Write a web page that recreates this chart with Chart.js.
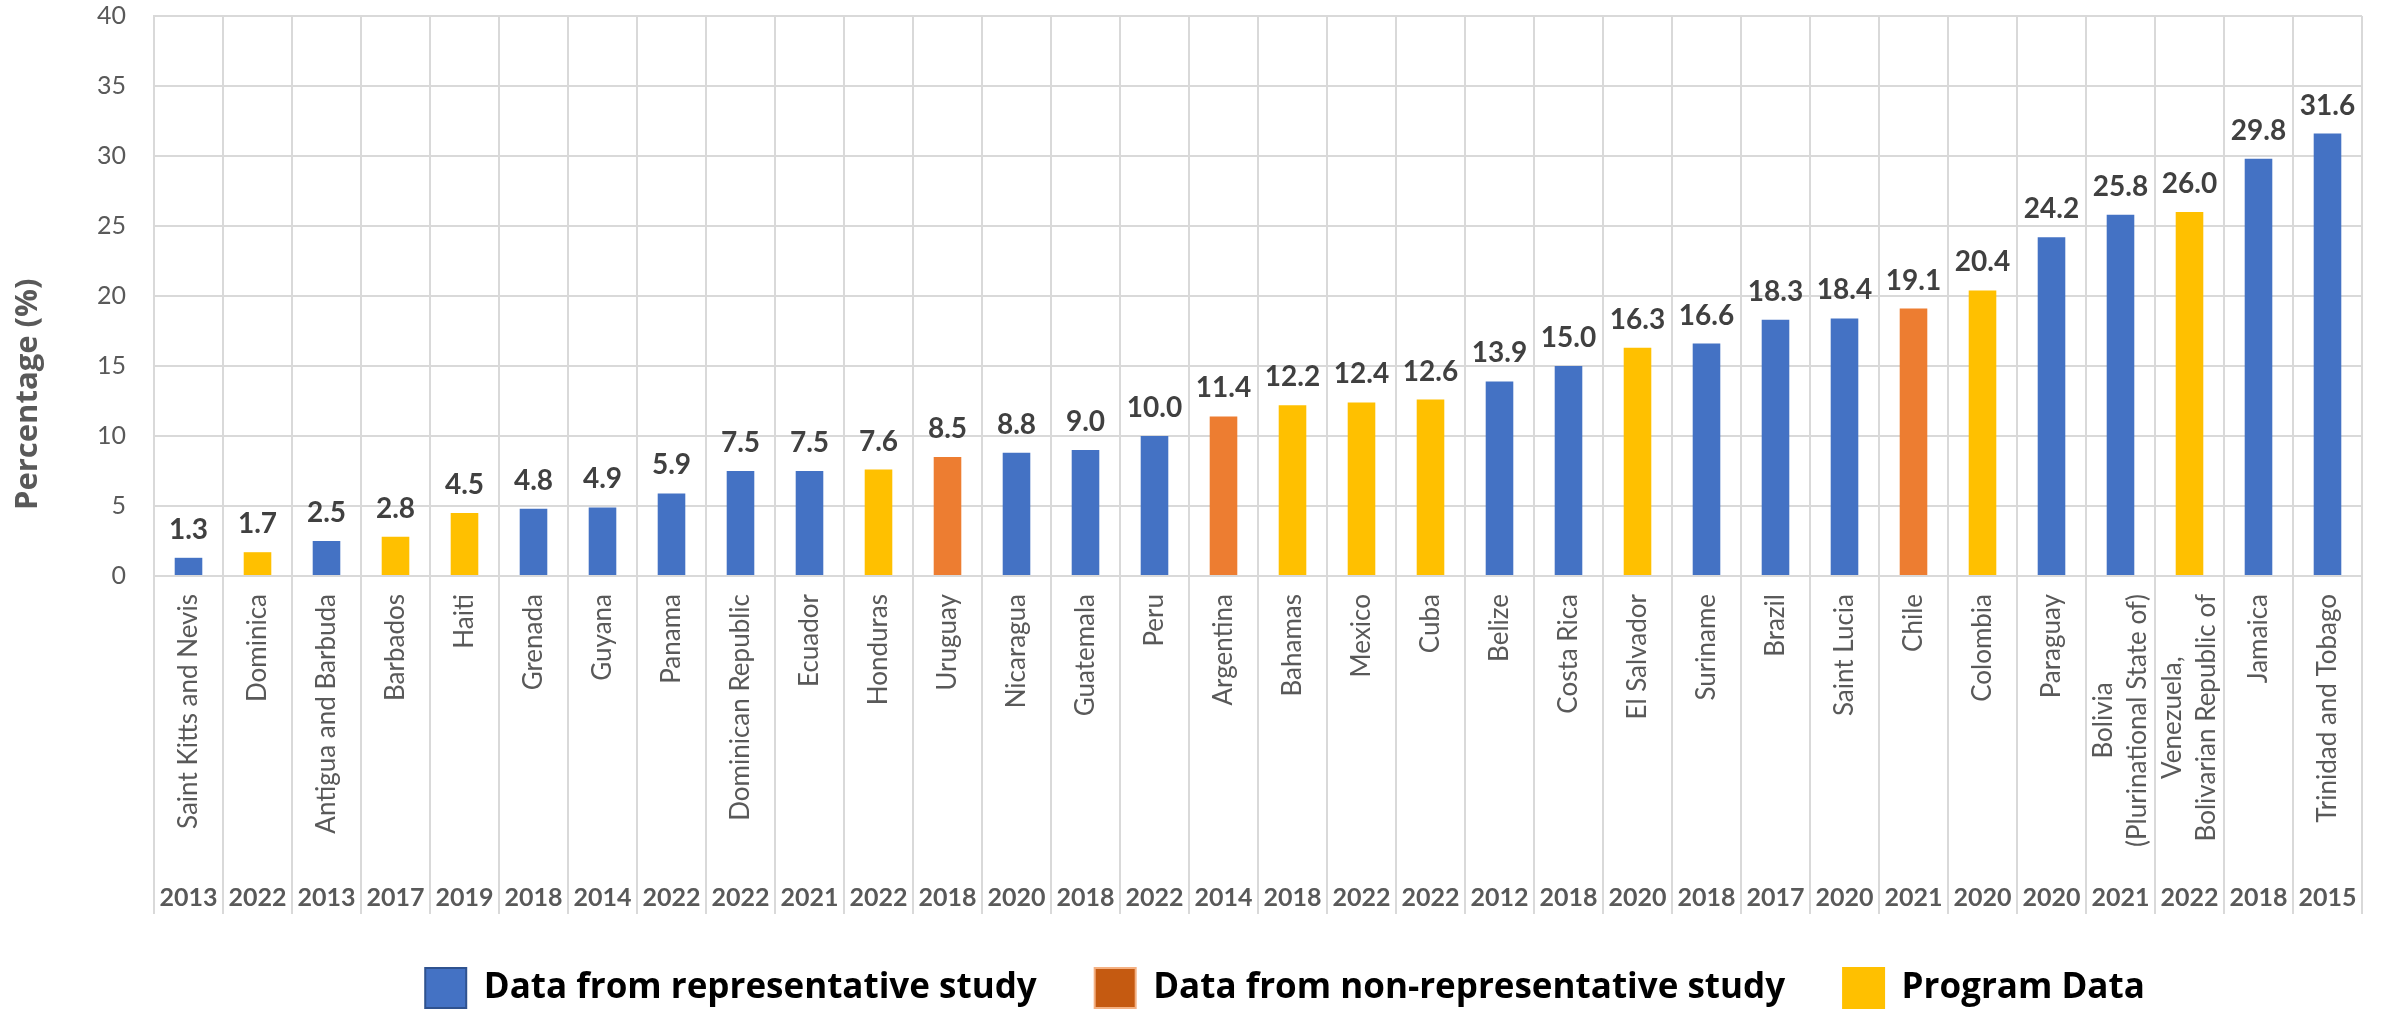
<!DOCTYPE html>
<html>
<head>
<meta charset="utf-8">
<script src="https://cdn.jsdelivr.net/npm/chart.js@4.4.1/dist/chart.umd.min.js"></script>
<style>
html,body{margin:0;padding:0;background:#ffffff;overflow:hidden;}
#wrap{width:2384px;height:1019px;position:relative;}
canvas{display:block;}
</style>
</head>
<body>
<div id="wrap"><canvas id="c" width="2384" height="1019"></canvas></div>
<script>
// ---- Data ----
const countries = [
  "Saint Kitts and Nevis","Dominica","Antigua and Barbuda","Barbados","Haiti","Grenada","Guyana","Panama",
  "Dominican Republic","Ecuador","Honduras","Uruguay","Nicaragua","Guatemala","Peru","Argentina",
  "Bahamas","Mexico","Cuba","Belize","Costa Rica","El Salvador","Suriname","Brazil",
  "Saint Lucia","Chile","Colombia","Paraguay","Bolivia\n(Plurinational State of)","Venezuela,\nBolivarian Republic of","Jamaica","Trinidad and Tobago"
];
const years = [
  "2013","2022","2013","2017","2019","2018","2014","2022",
  "2022","2021","2022","2018","2020","2018","2022","2014",
  "2018","2022","2022","2012","2018","2020","2018","2017",
  "2020","2021","2020","2020","2021","2022","2018","2015"
];
const values = [
  1.3,1.7,2.5,2.8,4.5,4.8,4.9,5.9,
  7.5,7.5,7.6,8.5,8.8,9.0,10.0,11.4,
  12.2,12.4,12.6,13.9,15.0,16.3,16.6,18.3,
  18.4,19.1,20.4,24.2,25.8,26.0,29.8,31.6
];
// R = representative study, N = non-representative study, P = program data
const studyType = [
  "R","P","R","P","P","R","R","R",
  "R","R","P","N","R","R","R","N",
  "P","P","P","R","R","P","R","R",
  "R","N","P","R","R","P","R","R"
];
const seriesCodes = ["R","N","P"];
const seriesNames = ["Data from representative study","Data from non-representative study","Program Data"];
const yAxisTitle = "Percentage (%)";

// ---- Styles ----
const barColors = ["#4472C4","#ED7D31","#FFC000"];
const legendFill = ["#4472C4","#C55A11","#FFC000"];
const legendStroke = ["#2F528F","#F4B183","#FFC000"];
const GRID = "#d9d9d9";
const TXT = "#595959";
const OPEN = "'Open Sans', 'DejaVu Sans', sans-serif";

function fitSize(text, weight, family, target, base) {
  const c = document.createElement("canvas").getContext("2d");
  c.font = weight + " " + base + "px " + family;
  const w = c.measureText(text).width;
  return w > 0 ? base * target / w : base;
}

const datasets = seriesNames.map((name, s) => ({
  label: name,
  data: values.map((v, i) => studyType[i] === seriesCodes[s] ? v : null),
  backgroundColor: barColors[s],
  borderWidth: 0,
  barPercentage: 0.4,
  categoryPercentage: 1.0,
  grouped: false
}));

const textPlugin = {
  id: "textPlugin",
  afterLayout(chart) {
    const L = chart.legend;
    if (L) { L.left += 27; L.right += 27; }
  },
  afterDatasetsDraw(chart) {
    const ctx = chart.ctx;
    ctx.save();
    ctx.font = "bold 28px Lato";
    ctx.fillStyle = "#404040";
    ctx.textAlign = "center";
    ctx.textBaseline = "alphabetic";
    chart.data.datasets.forEach((ds, di) => {
      const meta = chart.getDatasetMeta(di);
      meta.data.forEach((el, i) => {
        const v = ds.data[i];
        if (v === null || v === undefined) return;
        ctx.fillText(v.toFixed(1), el.x, el.y - 19);
      });
    });
    ctx.restore();
  },
  afterDraw(chart) {
    const ctx = chart.ctx;
    const xs = chart.scales.x;
    // category labels (rotated)
    ctx.save();
    ctx.fillStyle = TXT;
    ctx.font = "26px Lato";
    const lh = 34;
    countries.forEach((name, i) => {
      const lines = name.split("\n");
      const x = xs.getPixelForTick(i);
      const W = Math.max(...lines.map(l => ctx.measureText(l).width));
      const cy = xs.top + 18 + W / 2;
      ctx.save();
      ctx.translate(x, cy);
      ctx.rotate(-Math.PI / 2);
      ctx.textAlign = "center";
      ctx.textBaseline = "middle";
      lines.forEach((l, k) => ctx.fillText(l, 0, (k - (lines.length - 1) / 2) * lh));
      ctx.restore();
    });
    // years row
    ctx.font = "bold 25px Lato";
    ctx.textAlign = "center";
    ctx.textBaseline = "alphabetic";
    years.forEach((y, i) => {
      ctx.fillText(y, xs.getPixelForTick(i), xs.top + 330);
    });
    ctx.restore();

    // y axis title
    ctx.save();
    ctx.fillStyle = TXT;
    ctx.font = "bold 31px \"Open Sans\"";
    ctx.translate(37, 510);
    ctx.rotate(-Math.PI / 2);
    ctx.textAlign = "left";
    ctx.textBaseline = "alphabetic";
    ctx.fillText(yAxisTitle, 0, 0);
    ctx.restore();
  }
};

function build() {
  const legendSize = fitSize(seriesNames[0], "bold", OPEN, 553, 35);
  new Chart(document.getElementById("c"), {
    type: "bar",
    data: { labels: countries.map(c => c.split("\n")), datasets },
    options: {
      responsive: false,
      animation: false,
      devicePixelRatio: 1,
      layout: { padding: { top: 16, right: 22, bottom: 1, left: 0 } },
      plugins: {
        tooltip: { enabled: false },
        legend: {
          position: "bottom",
          fullSize: false,
          labels: {
            boxWidth: 41,
            boxHeight: 40,
            padding: 58,
            color: "#000000",
            font: { family: OPEN, size: legendSize, weight: "bold" },
            generateLabels() {
              return seriesNames.map((n, i) => ({
                text: n, fillStyle: legendFill[i], strokeStyle: legendStroke[i],
                lineWidth: 2, hidden: false, datasetIndex: i, fontColor: "#000000"
              }));
            }
          }
        }
      },
      scales: {
        x: {
          offset: true,
          grid: { offset: true, color: GRID, lineWidth: 2, drawTicks: true, tickLength: 338 },
          border: { display: true, color: GRID, width: 2 },
          ticks: { display: false },
          afterFit(scale) { scale.height = 334; }
        },
        y: {
          min: 0, max: 40,
          ticks: { stepSize: 5, padding: 28, color: TXT, font: { family: "Lato", size: 25 } },
          grid: { color: GRID, lineWidth: 2, drawTicks: false },
          border: { display: true, color: GRID, width: 2 },
          afterFit(scale) {
            scale.width = 154;
            scale.paddingTop = 0;
            scale.paddingBottom = 0;
          }
        }
      }
    },
    plugins: [textPlugin]
  });
}

if (document.fonts && document.fonts.load) {
  Promise.all([
    document.fonts.load("26px Lato"),
    document.fonts.load("bold 26px Lato"),
    document.fonts.load("bold 30px 'Open Sans'")
  ]).then(build, build);
} else { build(); }
</script>
</body>
</html>
